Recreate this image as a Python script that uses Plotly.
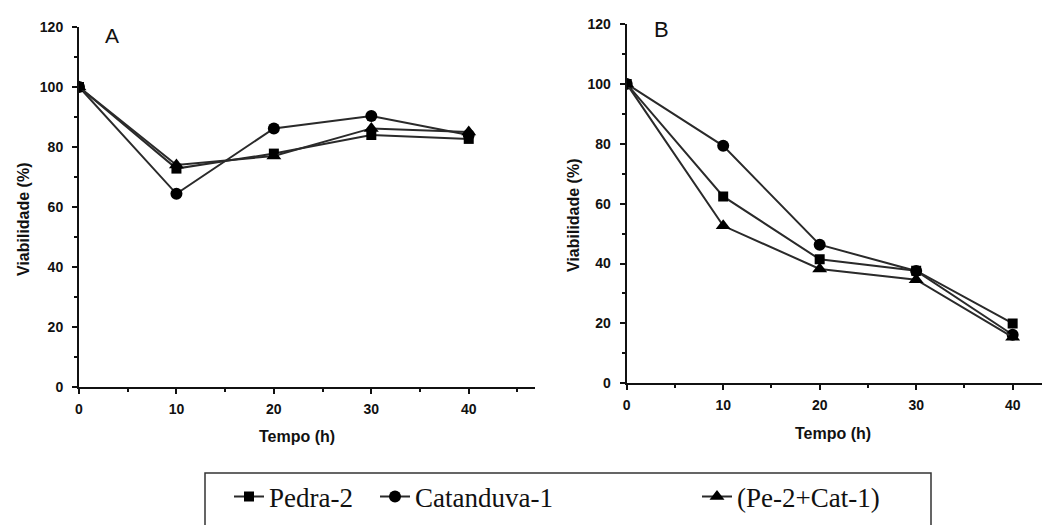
import plotly.graph_objects as go

# Page body has an 8px default margin; figure sized to fill the rest of the window.
OFF = 8
W, H = 1050 - OFF, 525 - OFF

time_h = [0, 10, 20, 30, 40]

# Panel A
a_pedra = [100, 72.8, 77.8, 84.0, 82.7]
a_catanduva = [100, 64.4, 86.2, 90.3, 84.0]
a_mix = [100, 74.0, 77.0, 86.2, 85.0]

# Panel B
b_pedra = [100, 62.4, 41.4, 37.6, 20.0]
b_catanduva = [100, 79.3, 46.3, 37.5, 16.2]
b_mix = [100, 52.6, 38.2, 34.6, 15.4]

names = ["Pedra-2", "Catanduva-1", "(Pe-2+Cat-1)"]
symbols = ["square", "circle", "triangle-up"]
sizes = [10, 12, 13]
legends = ["legend", "legend2", "legend3"]

panel_letters = ["A", "B"]
x_title = "Tempo (h)"
y_title = "Viabilidade (%)"

LINE = "#2a2a2a"
TICKFONT = dict(family="Liberation Sans", size=14, color="#111", weight="bold")
TITLEFONT = dict(family="Liberation Sans", size=16, color="#111", weight="bold")


def px_x(p):
    # p: screen pixel x
    return (p - OFF) / W


def px_y(p):
    # p: screen pixel y
    return 1 - (p - OFF) / H


fig = go.Figure()

series_a = [a_pedra, a_catanduva, a_mix]
series_b = [b_pedra, b_catanduva, b_mix]

for i in range(3):
    fig.add_trace(go.Scatter(
        x=time_h, y=series_a[i], name=names[i], mode="lines+markers",
        line=dict(color=LINE, width=2),
        marker=dict(symbol=symbols[i], size=sizes[i], color="#000"),
        xaxis="x", yaxis="y", legend=legends[i], showlegend=True,
    ))
for i in range(3):
    fig.add_trace(go.Scatter(
        x=time_h, y=series_b[i], name=names[i], mode="lines+markers",
        line=dict(color=LINE, width=2),
        marker=dict(symbol=symbols[i], size=sizes[i], color="#000"),
        xaxis="x2", yaxis="y2", showlegend=False,
    ))

minor_common = dict(ticks="outside", ticklen=3, tickcolor="#111", tickwidth=1.5)
axis_common = dict(
    showgrid=False, zeroline=False, showline=True, linecolor="#111", linewidth=2,
    ticks="outside", ticklen=5, tickwidth=1.5, tickcolor="#111",
    tickfont=TICKFONT,
)

fig.update_layout(
    width=W, height=H,
    margin=dict(l=0, r=0, t=0, b=0, autoexpand=False),
    paper_bgcolor="white", plot_bgcolor="white",
    xaxis=dict(domain=[px_x(79), px_x(535)], range=[0, 46.8], dtick=10,
               minor=dict(dtick=5, **minor_common),
               anchor="y", ticklabelstandoff=3, **axis_common),
    yaxis=dict(domain=[px_y(387), px_y(27)], range=[0, 120], dtick=20,
               minor=dict(dtick=10, **minor_common),
               anchor="x", ticklabelstandoff=6, **axis_common),
    xaxis2=dict(domain=[px_x(626.7), 1.0], range=[0, 43.87], dtick=10,
                minor=dict(dtick=5, **minor_common),
                anchor="y2", ticklabelstandoff=3, **axis_common),
    yaxis2=dict(domain=[px_y(383.3), px_y(24)], range=[0, 120], dtick=20,
                minor=dict(dtick=10, **minor_common),
                anchor="x2", ticklabelstandoff=6, **axis_common),
)

legend_font = dict(family="Liberation Serif", size=27, color="#111")
legend_x = [229, 375, 697]
for lg, lx in zip(legends, legend_x):
    fig.update_layout({lg: dict(
        x=px_x(lx), y=px_y(497), xanchor="left", yanchor="middle",
        orientation="h", font=legend_font, bgcolor="rgba(0,0,0,0)",
        borderwidth=0, itemclick=False, itemdoubleclick=False,
    )})

# legend frame
fig.add_shape(type="rect", xref="paper", yref="paper",
              x0=px_x(205), x1=px_x(931), y0=px_y(540), y1=px_y(473),
              line=dict(color="#333", width=1.5), fillcolor="rgba(0,0,0,0)")

annotations = [
    dict(text=panel_letters[0], x=px_x(112), y=px_y(36), font=dict(family="Liberation Sans", size=21, color="#111")),
    dict(text=panel_letters[1], x=px_x(661), y=px_y(30), font=dict(family="Liberation Sans", size=22, color="#111")),
    dict(text=x_title, x=px_x(297), y=px_y(436), font=TITLEFONT),
    dict(text=x_title, x=px_x(833), y=px_y(433), font=TITLEFONT),
    dict(text=y_title, x=px_x(23), y=px_y(219), textangle=-90, font=TITLEFONT),
    dict(text=y_title, x=px_x(574), y=px_y(215), textangle=-90, font=TITLEFONT),
]
for a in annotations:
    fig.add_annotation(xref="paper", yref="paper", showarrow=False,
                       xanchor="center", yanchor="middle", **a)

fig.write_html("out.html")
